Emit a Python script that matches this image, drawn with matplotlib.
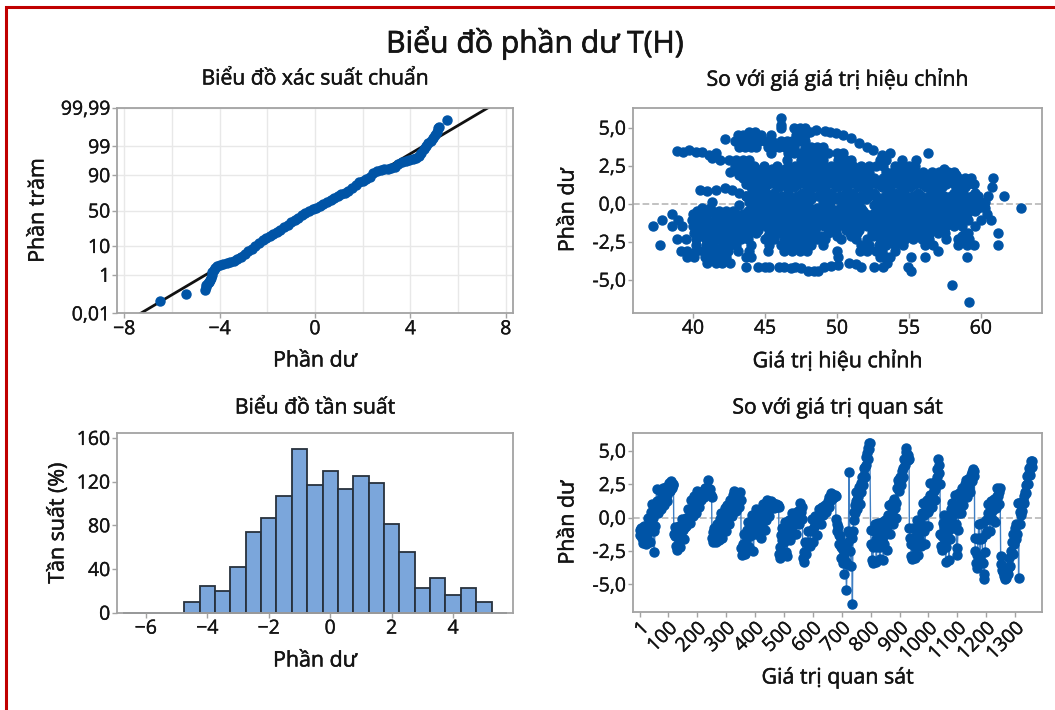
import matplotlib
matplotlib.use("Agg")
import matplotlib.pyplot as plt
import matplotlib.patheffects as pe
from matplotlib.patches import Rectangle
from statistics import NormalDist
import numpy as np

plt.rcParams['font.family'] = ['Open Sans', 'Noto Sans', 'DejaVu Sans']

W, H = 1055, 710
BLUE = '#0054A6'
TEXT = '#141414'
SPINE = '#a3a3a3'
MS = 6.5

# normal probability plot
prob_resid = [-6.5, -5.43, -4.6, -4.58, -4.55, -4.5, -4.46, -4.42, -4.38, -4.33, -4.3, -4.25, -4.2, -4.1, -4.0,
              -3.85, -3.7, -3.55, -3.4, -3.25, -3.1, -2.95, -2.8, -2.65, -2.5, -2.35, -2.2, -2.05, -1.9, -1.75,
              -1.6, -1.45, -1.3, -1.15, -1.0, -0.85, -0.7, -0.55, -0.4, -0.25, -0.1, 0.05, 0.2, 0.35, 0.5, 0.65,
              0.8, 0.95, 1.1, 1.25, 1.4, 1.55, 1.7, 1.85, 2.0, 2.15, 2.3, 2.45, 2.6, 2.75, 2.9, 3.05, 3.2, 3.35,
              3.5, 3.65, 3.8, 3.95, 4.1, 4.25, 4.35, 4.45, 4.55, 4.65, 4.75, 4.85, 4.95, 5.03, 5.1, 5.15, 5.2, 5.55]
prob_pct = [0.05, 0.13, 0.2, 0.28, 0.35, 0.42, 0.5, 0.62, 0.75, 1.0, 1.25, 1.6, 1.9, 2.2, 2.45,
            2.6, 2.8, 3.0, 3.5, 4.1, 4.8, 5.6, 7, 8.3, 9.8, 12, 14, 15.8, 17.5, 19.5,
            21.5, 24.5, 27, 30, 33.5, 37, 39.5, 43, 46.5, 49, 51.5, 54, 57, 59.5, 61.5, 64.5,
            67.5, 69.5, 72, 74, 76.5, 79.5, 82.5, 84.5, 86, 87.5, 89, 91, 92.2, 92.9, 93.3, 93.5, 93.8, 94.3,
            95.2, 95.9, 96.2, 96.5, 96.9, 97.2, 97.6, 98.1, 98.7, 99.0, 99.25, 99.4, 99.55, 99.68, 99.77, 99.85, 99.88, 99.95]
fit_resid = [-7.31, 7.26]
fit_pct = [0.01, 99.99]
prob_ticks = [0.01, 1, 10, 50, 90, 99, 99.99]
prob_labels = ['0,01', '1', '10', '50', '90', '99', '99,99']

# histogram
hist_centers = [-6.5, -6, -5.5, -5, -4.5, -4, -3.5, -3, -2.5, -2, -1.5, -1, -0.5, 0, 0.5, 1, 1.5, 2, 2.5, 3, 3.5, 4, 4.5, 5, 5.5]
hist_counts = [0, 0, 0, 0, 10, 24, 20, 42, 74, 87, 107, 150, 117, 130, 113, 125, 119, 81, 56, 23, 32, 16, 23, 10, 0]

# residuals against fitted values, one row of fitted values per residual level
fit_levels = [5.6, 5.2, 5.0, 4.5, 4.1, 3.7, 3.3, 2.9, 2.5, 2.1, 1.7, 1.3, 0.5, 0.1, -0.3, -0.7, -1.1, -1.5, -1.9, -2.3, -2.7, -3.1, -3.5, -3.9]
fit_rows = [
    [46.1],
    [46.1],
    [46.1, 47.0, 47.4, 47.8],
    [43.1, 43.5, 43.9, 44.3, 45.4, 47.16, 47.8],
    [42.9, 43.3, 43.7, 44.1, 44.6, 45.0, 45.5, 46.1, 46.5, 46.9, 47.3, 47.8],
    [43.2, 43.6, 44.0, 44.4, 45.2, 45.6, 46.0, 46.4, 47.0, 47.8, 48.2, 48.6, 49.0],
    [45.4, 46.6, 47.0, 47.4, 47.8, 48.2, 48.6, 49.0, 49.4, 50.0, 50.4, 56.3],
    [42.5, 43.0, 43.5, 43.9, 46.5, 47.5, 48.0, 48.5, 49.0, 50.1, 50.6, 51.0, 53.0, 53.4, 54.5, 55.5],
    [42.9, 43.3, 43.8, 44.2, 44.95, 45.8, 46.6, 47.1, 47.6, 48.1, 48.6, 49.1, 49.6, 50.1, 50.6, 51.1, 51.7, 52.2, 52.7, 53.2, 54.0, 54.5, 55.0, 55.4],
    [42.6, 43.1, 43.6, 44.1, 44.6, 45.2, 45.7, 46.2, 46.7, 47.2, 47.7, 48.2, 48.7, 49.2, 49.7, 50.2, 50.7, 51.2, 51.7, 52.2, 53.4, 53.9, 54.4, 54.9, 55.4, 56.0, 56.6, 57.1, 57.7, 58.1],
    [43.5, 44.0, 44.5, 45.0, 45.5, 46.0, 46.6, 47.1, 47.6, 48.1, 48.6, 49.1, 49.6, 50.1, 50.6, 51.1, 51.6, 52.1, 52.6, 53.2, 53.7, 54.2, 54.7, 55.3, 55.8, 56.4, 56.9, 57.4, 57.9, 58.4, 58.9, 59.3, 60.85],
    [43.7, 44.2, 44.7, 45.2, 45.7, 46.2, 46.8, 47.3, 47.8, 48.3, 48.8, 49.3, 49.8, 50.3, 50.8, 51.3, 51.8, 52.3, 52.8, 53.3, 53.8, 54.3, 54.8, 55.4, 55.9, 56.5, 57.0, 57.6, 58.1, 58.6, 59.1, 59.5],
    [43.7, 44.2, 44.7, 45.2, 45.7, 46.2, 46.7, 47.2, 47.7, 48.7, 49.2, 49.7, 50.2, 50.7, 51.2, 51.7, 52.2, 52.7, 53.3, 53.8, 54.3, 54.8, 55.3, 55.8, 56.4, 56.9, 57.4, 57.9, 58.4, 58.9, 59.4, 59.8, 60.5, 61.6],
    [41.35, 43.9, 44.3, 44.8, 45.3, 45.8, 46.3, 46.8, 47.3, 47.8, 49.5, 49.0, 50.5, 51.0, 51.5, 52.8, 53.3, 53.8, 54.4, 54.9, 55.4, 55.9, 56.4, 56.9, 57.5, 58.0, 58.5, 59.0, 59.5, 59.9, 60.3],
    [40.6, 41.2, 44.1, 44.6, 45.1, 45.6, 46.1, 46.6, 47.1, 47.6, 48.1, 48.6, 49.1, 49.6, 50.2, 50.7, 51.2, 51.7, 52.9, 53.4, 53.9, 54.4, 54.9, 55.4, 55.9, 56.4, 56.9, 57.4, 57.9, 58.4, 58.9, 59.4, 59.8, 60.3, 62.75],
    [38.55, 40.0, 40.5, 41.0, 41.5, 42.0, 42.5, 43.0, 43.5, 44.0, 44.5, 45.0, 45.5, 46.0, 46.5, 47.0, 47.5, 48.0, 48.5, 49.0, 49.5, 50.0, 50.5, 51.0, 51.5, 52.0, 52.5, 53.0, 53.5, 54.0, 54.5, 55.0, 55.5, 56.0, 56.5, 57.0, 57.5, 58.0, 58.5, 59.0, 60.4],
    [37.85, 38.98, 39.9, 40.4, 41.0, 41.6, 42.1, 42.6, 43.1, 43.6, 44.1, 44.6, 45.1, 45.6, 46.1, 46.6, 47.1, 47.6, 48.1, 48.6, 49.1, 49.6, 50.1, 50.6, 51.1, 51.6, 52.1, 52.6, 53.1, 53.6, 54.1, 54.6, 55.1, 55.6, 56.1, 56.6, 57.1, 57.6, 58.1, 58.6, 59.1, 60.0, 60.7],
    [37.25, 38.55, 39.25, 40.0, 40.6, 41.6, 42.1, 42.6, 43.1, 43.6, 44.1, 44.6, 45.1, 45.6, 46.1, 46.6, 47.1, 47.6, 48.1, 48.6, 49.1, 49.6, 50.1, 50.6, 51.1, 51.6, 52.1, 52.6, 53.1, 53.6, 54.1, 54.6, 55.1, 55.6, 56.1, 56.6, 57.1, 57.6, 58.1, 58.7, 59.6],
    [40.1, 40.7, 41.3, 41.9, 42.4, 42.9, 43.4, 43.9, 44.4, 45.4, 45.9, 46.4, 46.9, 47.4, 47.9, 48.4, 49.4, 49.9, 50.9, 51.4, 52.4, 52.9, 53.4, 53.9, 54.4, 54.9, 55.4, 55.9, 56.4, 57.0, 57.5, 58.9, 59.1, 61.15],
    [38.9, 39.5, 40.2, 40.9, 41.5, 42.2, 42.7, 43.3, 43.8, 45.0, 45.6, 46.3, 46.9, 47.4, 48.0, 48.6, 49.2, 50.3, 51.3, 52.1, 53.0, 53.6, 54.2, 54.7, 55.3, 55.9, 56.4, 57.6, 58.4, 58.8, 59.2],
    [37.7, 40.2, 40.9, 41.4, 42.0, 42.6, 43.0, 44.0, 45.3, 46.1, 46.7, 47.2, 47.7, 48.2, 49.0, 51.7, 52.2, 52.9, 53.4, 54.0, 54.6, 56.1, 56.7, 58.4, 59.0, 59.5, 61.15],
    [39.15, 39.6, 40.2, 40.7, 41.3, 41.8, 42.4, 43.1, 43.9, 45.2, 46.3, 46.9, 47.4, 47.9, 50.0, 51.6, 52.1, 52.7, 53.1, 54.0, 57.0],
    [39.6, 40.1, 40.8, 41.2, 41.7, 42.3, 43.7, 44.0, 50.1, 53.0, 53.4, 53.7, 55.15, 56.1, 59.0],
    [41.0, 41.6, 42.0, 42.6, 53.5],
]
# in-between rows that close the dense middle of the cloud
fill_levels = [2.3, 1.9, 1.5, 1.1, 0.7, 0.3, -0.1, -0.5, -0.9, -1.3, -1.7, -2.1]
fill_rows = [
    [44.4, 45.5, 46.4, 47.4, 47.9, 48.9, 49.4, 50.4, 50.9, 54.2, 54.7, 55.2, 57.4],
    [43.2, 44.3, 44.8, 45.3, 46.3, 46.9, 47.9, 48.4, 49.4, 49.9, 50.9, 51.4, 53.6, 54.5, 55.1, 56.2, 56.8, 57.7, 58.3],
    [43.9, 44.4, 44.9, 45.8, 46.4, 47.4, 47.9, 48.4, 48.9, 49.9, 50.4, 50.9, 51.9, 52.9, 53.5, 54.0, 54.6, 55.1, 55.6, 56.7, 57.7, 58.3, 58.8],
    [44.0, 44.5, 45.0, 46.0, 46.5, 47.0, 48.0, 48.6, 49.1, 50.1, 50.6, 51.6, 52.1, 53.1, 53.6, 54.6, 55.1, 56.2, 56.8, 57.3, 58.4, 58.9, 60.75],
    [44.1, 44.6, 45.1, 45.6, 46.6, 47.6, 48.1, 49.1, 49.6, 50.6, 51.1, 52.1, 52.6, 53.6, 54.1, 54.6, 55.6, 56.6, 57.1, 58.1, 58.6, 59.6],
    [44.6, 45.1, 45.6, 46.1, 46.6, 47.1, 48.2, 50.0, 51.2, 52.0, 53.1, 53.6, 54.6, 55.1, 55.7, 56.7, 57.2, 57.7, 58.7, 59.2, 59.7],
    [43.2, 44.4, 44.9, 45.4, 45.9, 46.9, 47.4, 47.9, 49.4, 51.1, 52.6, 53.6, 54.1, 55.1, 55.6, 56.1, 57.1, 57.6, 58.1, 59.1, 60.0],
    [40.3, 40.8, 41.3, 41.8, 42.3, 42.8, 43.8, 44.3, 45.3, 45.8, 46.8, 47.3, 48.3, 48.8, 49.8, 50.3, 51.3, 51.8, 52.8, 53.3, 54.3, 54.8, 55.8, 56.3, 57.3, 57.8, 58.8, 59.6],
    [40.2, 40.7, 41.7, 42.3, 43.3, 43.8, 44.8, 45.3, 46.3, 46.8, 47.8, 48.3, 49.3, 49.8, 50.8, 51.3, 52.3, 52.8, 53.8, 54.3, 55.3, 55.8, 56.8, 57.3, 58.3, 58.8],
    [40.4, 40.9, 41.4, 42.4, 42.9, 43.9, 44.4, 45.4, 45.9, 46.9, 47.4, 48.4, 48.9, 49.9, 50.4, 51.4, 51.9, 52.9, 53.4, 54.4, 54.9, 55.9, 56.4, 57.4, 57.9],
    [40.3, 41.0, 41.5, 42.0, 43.0, 43.5, 44.5, 45.3, 46.0, 47.0, 47.5, 48.5, 49.7, 50.6, 51.5, 52.6, 53.2, 54.2, 54.7, 55.7, 56.2, 57.2],
    [40.6, 41.2, 41.7, 42.7, 43.2, 43.7, 45.2, 46.6, 47.1, 48.2, 48.9, 50.0, 51.0, 52.5, 53.7, 54.3, 55.2, 55.8, 56.3, 58.7],
]
# the thin arcs along the edge of the cloud and the few far points
arc_x = [38.86, 39.3, 39.7, 40.2, 40.65, 41.1, 41.3, 41.6, 41.9,
         40.5, 41.0, 41.6, 42.2, 42.7, 43.2, 43.7, 44.1,
         42.2, 43.9, 44.3, 44.7, 47.6, 48.1, 48.55, 49.14, 49.5, 49.95, 50.4, 51.0, 51.5, 52.05, 52.5, 53.1, 53.7,
         43.7, 44.5, 45.0, 45.3, 46.0, 46.3, 46.8, 47.1, 47.5, 48.0, 48.4, 48.7, 49.1, 49.6, 50.1, 50.8, 51.3, 51.7, 52.6, 53.2,
         54.9, 55.15, 58.0, 59.2]
arc_y = [3.48, 3.42, 3.52, 3.4, 3.41, 3.2, 3.0, 3.3, 2.87,
         0.9, 0.85, 0.88, 1.0, 0.9, 0.7, 0.5, -0.2,
         4.27, 4.7, 4.73, 4.5, 4.9, 4.7, 4.83, 4.79, 4.7, 4.66, 4.5, 4.35, 3.96, 3.7, 3.5, 3.2, 3.3,
         -4.18, -4.18, -4.18, -4.18, -4.18, -4.18, -4.2, -4.15, -4.2, -4.46, -4.4, -4.46, -4.18, -4.1, -4.03, -3.9, -4.0, -4.18, -4.14, -4.18,
         -4.18, -4.42, -5.34, -6.46]

# residuals against observation order, one list per sawtooth with its first and last observation
tooth_first = [1, 119, 251, 352, 483, 565, 680, 739, 800, 934, 1041, 1160, 1250, 1312]
tooth_last = [118, 250, 351, 482, 564, 679, 737, 797, 933, 1040, 1159, 1248, 1310, 1360]
teeth = [
    [-0.9, -1.3, -0.8, -1.5, -1.9, -1.2, -0.6, -1.4, -2.0, -1.4, -0.6, 0.0, -0.9, -1.8, -0.5, 0.4, 1.0, 0.0, -1.0, -2.6, -0.6, 0.9, 2.1, 1.2, 0.3, 1.1, 2.0, 1.3, 0.6, 1.3, 2.2, 1.6, 0.9, 1.5, 2.3, 1.7, 1.2, 1.9, 2.6, 2.0, 2.4, 2.7, 2.2, 2.5, 2.4],
    [-1.2, -0.7, -1.4, -2.1, -2.4, -1.5, -0.6, -1.2, -2.2, -1.4, -0.5, -0.1, -0.9, -1.6, -0.7, 0.0, -0.6, -0.1, 0.6, 0.0, -0.4, 0.5, 1.3, 0.7, 0.1, 0.9, 1.6, 1.0, 0.3, 1.2, 2.0, 1.4, 0.8, 1.4, 1.9, 1.3, 1.6, 1.9, 1.5, 1.9, 2.2, 1.8, 2.2, 2.8, 2.2, 1.9, 2.1, 1.7, 1.5],
    [-1.5, -1.8, -1.1, -0.8, -1.4, -1.8, -1.2, -0.5, -1.0, -1.7, -1.0, -0.1, 0.3, -0.5, -1.5, -0.7, 0.2, 0.7, 0.0, -1.0, 0.1, 0.9, 0.3, -0.5, 0.5, 1.3, 0.7, 0.1, 0.9, 1.7, 2.0, 1.2, 0.5, 1.2, 1.8, 1.2, 0.8, 1.4, 1.9, 1.3],
    [-2.3, -2.8, -2.0, -1.2, -2.1, -2.7, -1.8, -0.9, -0.3, -1.2, -2.2, -1.4, -0.4, 0.2, -0.6, -2.5, -1.2, 0.0, 0.6, -0.3, -1.2, -0.6, 0.2, -0.4, -1.5, -0.6, 0.4, 1.0, 0.3, -0.9, -0.2, 0.7, 1.3, 0.6, 0.1, 0.9, 1.2, 0.7, 0.9, 1.1, 0.7, 0.9, 0.8, 1.0, 0.8, 0.9, 0.8],
    [-2.7, -3.0, -2.2, -1.3, -0.8, -1.7, -2.8, -1.8, -0.8, -0.3, -1.2, -2.6, -2.9, -1.6, -0.6, -0.2, -1.0, -1.7, -0.8, 0.0, 0.3, -0.5, -1.2, -0.5, 0.3, -0.3, -1.2, -0.4, 0.5, 0.0, -0.5, 0.4, 1.1, 0.4, -0.1, 0.8],
    [-3.0, -3.3, -2.6, -1.8, -2.7, -2.0, -1.0, -1.8, -2.1, -1.0, -0.1, -0.9, -1.8, -0.7, 0.1, -0.5, -1.3, -0.2, 0.6, 0.1, -0.5, 0.4, 0.8, 0.2, 0.5, 0.9, 0.4, 0.8, 1.2, 0.8, 1.5, 1.2, 1.8, 1.4, 1.7, 1.5, 1.7, 1.6],
    [-0.1, -0.5, -1.0, -0.7, -1.3, -2.0, -1.4, -2.2, -3.0, -2.0, -3.4, -2.4, -4.2, -3.0, -2.0, -3.3, -5.4, -3.5, -1.8, -1.0, 3.4, -1.2, -2.5, -3.6, -1.5, -6.5],
    [-1.0, -0.2, 0.4, 0.9, 0.3, 1.2, 1.9, 1.3, 0.6, 1.5, 2.3, 1.8, 1.0, 2.0, 2.6, 1.9, 2.5, 3.0, 2.4, 3.2, 3.7, 3.0, 3.8, 4.5, 3.9, 4.8, 5.2, 4.4, 5.6, 5.1, 5.6],
    [-0.9, -2.0, -3.2, -3.4, -2.2, -1.0, -0.5, -1.6, -3.3, -2.2, -1.0, -0.4, -1.6, -3.1, -2.2, -0.8, -0.3, -1.6, -3.2, -2.0, -0.7, -0.2, -1.2, -2.4, -1.0, 0.2, 0.9, 0.0, -1.2, 0.0, 1.1, 0.3, -0.5, 0.7, 1.4, 0.7, 0.0, 1.1, 2.2, 2.8, 2.0, 2.6, 3.0, 2.4, 2.8, 3.5, 3.0, 3.7, 4.4, 3.9, 4.9, 5.2, 4.5, 4.7, 4.3, 4.4],
    [-0.8, -1.5, -2.0, -2.9, -3.1, -2.0, -0.8, -1.5, -3.0, -2.2, -0.9, -0.2, -1.3, -2.8, -1.6, -0.3, -1.0, -2.1, -0.8, 0.3, 1.1, 0.2, -1.0, -2.0, -0.6, 0.6, 1.3, 0.4, -0.6, 0.6, 1.7, 2.6, 1.6, 0.8, 1.6, 2.6, 2.0, 1.3, 2.1, 2.7, 3.0, 3.6, 4.4, 3.9, 3.3, 2.5],
    [-1.2, -2.1, -2.4, -1.4, -0.4, 0.2, -0.7, -1.8, -3.3, -2.2, -1.0, 0.0, -1.0, -3.2, -1.6, -0.3, 0.6, 1.1, 0.2, -0.8, 0.4, 1.7, 0.8, -0.5, -2.8, -2.3, -0.9, 0.3, 1.8, 1.1, 0.3, 1.2, 2.2, 1.5, 0.9, 1.6, 2.5, 2.8, 2.0, 1.5, 2.3, 2.9, 2.3, 1.9, 2.7, 3.2, 2.7, 3.4, 3.6, 3.1, 3.5],
    [-1.5, -2.5, -3.4, -3.8, -2.8, -1.6, -0.5, -1.5, -3.0, -1.6, -0.4, -1.5, -3.4, -4.6, -4.2, -2.6, -1.2, -0.2, -1.0, 0.3, 1.0, 0.2, -1.0, 0.2, 1.2, 0.5, -0.2, 0.6, 1.4, 0.7, -0.3, 0.7, 1.6, 2.2, 1.6, 1.0, 1.9, 2.2],
    [-2.9, -3.5, -3.9, -4.1, -4.4, -4.6, -4.3, -4.5, -4.0, -4.2, -3.7, -3.0, -3.6, -2.5, -1.8, -2.7, -1.2, -2.0, -0.8, -1.6, -0.5, -1.2, 1.1],
    [-4.5, 1.1, 0.4, -0.5, 0.2, 1.1, 0.5, 1.2, 1.6, 1.1, 1.9, 2.4, 1.8, 2.5, 3.1, 2.5, 3.3, 3.7, 3.2, 3.9, 4.2, 3.8, 4.2],
]
order_ticks = [1, 100, 200, 300, 400, 500, 600, 700, 800, 900, 1000, 1100, 1200, 1300]
resid_ticks = [-5.0, -2.5, 0.0, 2.5, 5.0]


def make_axes(fig, left, right, top, bottom):
    ax = fig.add_axes([left / W, 1 - bottom / H, (right - left) / W, (bottom - top) / H])
    for s in ax.spines.values():
        s.set_color(SPINE)
        s.set_linewidth(1.3)
    ax.tick_params(colors=SPINE, labelcolor=TEXT, labelsize=14, length=3.5, width=1, pad=1.5)
    return ax


def heavy(t, w=0.35):
    # the reference text sits between regular and bold
    t.set_path_effects([pe.withStroke(linewidth=w, foreground=t.get_color())])
    return t


def finish(ax, title, xlabel, ylabel, title_y, xl_y, yl_x):
    # labels go at pixel positions
    box = ax.get_position()
    cx = (box.x0 + box.x1) / 2
    cy = (box.y0 + box.y1) / 2
    heavy(fig.text(cx, 1 - title_y / H, title, ha='center', va='center', fontsize=15.2, color=TEXT))
    heavy(fig.text(cx, 1 - xl_y / H, xlabel, ha='center', va='center', fontsize=15.4, color=TEXT))
    heavy(fig.text(yl_x / W, cy, ylabel, ha='center', va='center', rotation=90, fontsize=15.4, color=TEXT))
    for t in ax.get_xticklabels() + ax.get_yticklabels():
        heavy(t, 0.25)


def comma(v):
    return str(v).replace('.', ',')


fig = plt.figure(figsize=(W / 100, H / 100), dpi=100, facecolor='white')

# red frame of the screenshot
fig.add_artist(Rectangle((5.5 / W, -0.01), W, 1 - 7 / H + 0.01, transform=fig.transFigure,
                         fill=False, edgecolor='#c00000', linewidth=2.2))

heavy(fig.text(535 / W, 1 - 43 / H, 'Biểu đồ phần dư T(H)', ha='center', va='center', fontsize=21.7, color=TEXT), 0.5)

# top left: normal probability plot, the y axis is the normal quantile of the percentage
nd = NormalDist()
to_z = lambda pct: [nd.inv_cdf(p / 100) for p in pct]
ax = make_axes(fig, 117.3, 512.7, 107.7, 313.3)
ax.set_xlim(-8.29, 8.29)
ax.set_ylim(nd.inv_cdf(0.0001), nd.inv_cdf(0.9999))
ax.set_xticks([-8, -4, 0, 4, 8])
ax.set_xticks([-6, -2, 2, 6], minor=True)
ax.tick_params(axis='x', which='minor', length=0)
ax.set_yticks(to_z(prob_ticks))
ax.set_yticklabels(prob_labels)
ax.grid(True, which='both', color='#e8e8e8', linewidth=1)
ax.set_axisbelow(True)
ax.plot(fit_resid, to_z(fit_pct), color='#111111', linewidth=2, zorder=2)
ax.plot(prob_resid, to_z(prob_pct), 'o', color=BLUE, markersize=MS, zorder=3)
finish(ax, 'Biểu đồ xác suất chuẩn', 'Phần dư', 'Phần trăm', 79, 361, 38)

# top right: residuals against fitted values
ax = make_axes(fig, 633, 1042.3, 107.7, 312.7)
ax.axhline(0, color='#bdbdbd', linestyle='--', linewidth=1.3, zorder=1)
for level, row in zip(fit_levels + fill_levels, fit_rows + fill_rows):
    ax.plot(row, [level] * len(row), 'o', color=BLUE, markersize=MS, zorder=3)
ax.plot(arc_x, arc_y, 'o', color=BLUE, markersize=MS, zorder=3)
ax.set_xlim(35.83, 64.26)
ax.set_ylim(-7.17, 6.31)
ax.set_xticks([40, 45, 50, 55, 60])
ax.set_yticks(resid_ticks)
ax.set_yticklabels([comma(v) for v in resid_ticks])
finish(ax, 'So với giá giá trị hiệu chỉnh', 'Giá trị hiệu chỉnh', 'Phần dư', 79, 361, 568)

# bottom left: histogram
ax = make_axes(fig, 117.3, 512.7, 433.3, 612.7)
bars = ax.bar(hist_centers, hist_counts, width=0.5, color='#7ba6db', edgecolor='#27313d', linewidth=1.3)
for b in bars:
    b.set_clip_on(False)
ax.set_xlim(-6.93, 5.94)
ax.set_ylim(0, 164.2)
ax.set_xticks([-6, -4, -2, 0, 2, 4])
ax.set_yticks([0, 40, 80, 120, 160])
finish(ax, 'Biểu đồ tần suất', 'Phần dư', 'Tần suất (%)', 408, 661, 58)

# bottom right: residuals against observation order
ax = make_axes(fig, 633, 1042.3, 433.3, 612)
ax.axhline(0, color='#bdbdbd', linestyle='--', linewidth=1.3, zorder=1)
order_x = []
order_y = []
for first, last, tooth in zip(tooth_first, tooth_last, teeth):
    order_x += list(np.linspace(first, last, len(tooth)))
    order_y += tooth
ax.plot(order_x, order_y, '-', color='#3f7fc4', linewidth=1, zorder=2)
ax.plot(order_x, order_y, 'o', color=BLUE, markersize=MS, zorder=3)
ax.set_xlim(-22.1, 1394)
ax.set_ylim(-7.07, 6.3)
ax.set_xticks(order_ticks)
ax.set_xticklabels(order_ticks, rotation=45, ha='right', rotation_mode='anchor')
ax.set_yticks(resid_ticks)
ax.set_yticklabels([comma(v) for v in resid_ticks])
finish(ax, 'So với giá trị quan sát', 'Giá trị quan sát', 'Phần dư', 408, 678, 568)

fig.savefig('out.png', dpi=100)
